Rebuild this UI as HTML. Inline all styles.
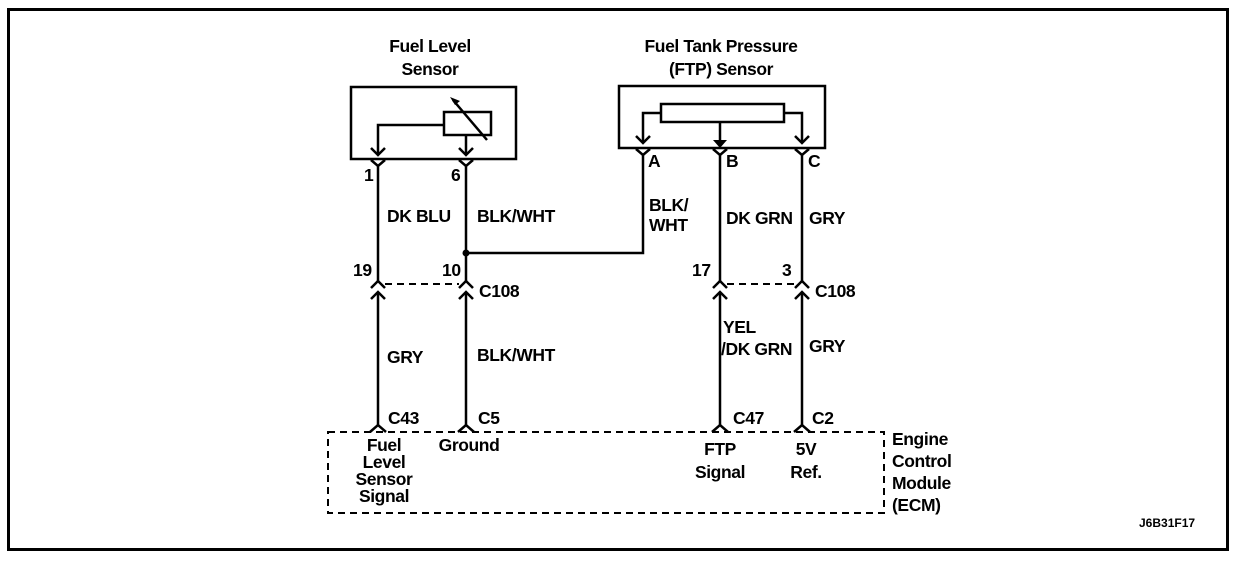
<!DOCTYPE html>
<html><head><meta charset="utf-8"><style>
html,body{margin:0;padding:0;background:#fff;}
svg{display:block;}
text{font-family:"Liberation Sans",Arial,sans-serif;font-weight:bold;font-size:17.5px;letter-spacing:-0.4px;fill:#000;}
</style></head><body>
<svg width="1248" height="562" viewBox="0 0 1248 562" xmlns="http://www.w3.org/2000/svg">
<rect x="8.5" y="9.5" width="1219" height="540" fill="none" stroke="#000" stroke-width="3"/>
<g fill="none" stroke="#000" stroke-width="2.5">
<rect x="351" y="87" width="165" height="72"/>
<rect x="444" y="112" width="47" height="23"/>
<polyline points="444,125 378,125 378,155"/>
<line x1="466" y1="135" x2="466" y2="155"/>
<polyline points="371,148 378,155 385,148"/>
<polyline points="459,148 466,155 473,148"/>
<line x1="453" y1="100" x2="487" y2="140"/>
<polyline points="371,160 378,166 385,160"/>
<polyline points="459,160 466,166 473,160"/>
<line x1="378" y1="166" x2="378" y2="281"/>
<line x1="466" y1="166" x2="466" y2="281"/>
<rect x="619" y="86" width="206" height="62"/>
<rect x="661" y="104" width="123" height="18"/>
<polyline points="661,113 643,113 643,143"/>
<polyline points="784,113 802,113 802,143"/>
<line x1="720" y1="122" x2="720" y2="140"/>
<polyline points="636,136 643,143 650,136"/>
<polyline points="795,136 802,143 809,136"/>
<polyline points="636,149 643,155 650,149"/>
<polyline points="713,149 720,155 727,149"/>
<polyline points="795,149 802,155 809,149"/>
<polyline points="643,155 643,253 466,253"/>
<line x1="720" y1="155" x2="720" y2="281"/>
<line x1="802" y1="155" x2="802" y2="281"/>
<polyline points="371,288 378,281 385,288"/>
<polyline points="459,288 466,281 473,288"/>
<polyline points="713,288 720,281 727,288"/>
<polyline points="795,288 802,281 809,288"/>
<polyline points="371,299 378,292 385,299"/>
<polyline points="459,299 466,292 473,299"/>
<polyline points="713,299 720,292 727,299"/>
<polyline points="795,299 802,292 809,299"/>
<line x1="378" y1="292" x2="378" y2="425"/>
<line x1="466" y1="292" x2="466" y2="425"/>
<line x1="720" y1="292" x2="720" y2="425"/>
<line x1="802" y1="292" x2="802" y2="425"/>
<polyline points="370,432 378,425 386,432"/>
<polyline points="458,432 466,425 474,432"/>
<polyline points="712,432 720,425 728,432"/>
<polyline points="794,432 802,425 810,432"/>
</g>
<polygon points="450,97 460,101 455,105" fill="#000"/>
<g fill="none" stroke="#000" stroke-width="2" stroke-dasharray="7,5">
<line x1="385" y1="284" x2="459" y2="284"/>
<line x1="727" y1="284" x2="795" y2="284"/>
<rect x="328" y="432" width="556" height="81"/>
</g>
<circle cx="466" cy="253" r="3.5" fill="#000"/>
<polygon points="713,140 727,140 720,148" fill="#000"/>
<text x="430" y="52" text-anchor="middle">Fuel Level</text>
<text x="430" y="75" text-anchor="middle">Sensor</text>
<text x="721" y="52" text-anchor="middle">Fuel Tank Pressure</text>
<text x="721" y="75" text-anchor="middle">(FTP) Sensor</text>
<text x="364" y="181">1</text>
<text x="451" y="181">6</text>
<text x="648" y="167">A</text>
<text x="726" y="167">B</text>
<text x="808" y="167">C</text>
<text x="387" y="222">DK BLU</text>
<text x="477" y="222">BLK/WHT</text>
<text x="649" y="211">BLK/</text>
<text x="649" y="231">WHT</text>
<text x="726" y="224">DK GRN</text>
<text x="809" y="224">GRY</text>
<text x="353" y="276">19</text>
<text x="442" y="276">10</text>
<text x="692" y="276">17</text>
<text x="782" y="276">3</text>
<text x="479" y="297">C108</text>
<text x="815" y="297">C108</text>
<text x="387" y="363">GRY</text>
<text x="477" y="361">BLK/WHT</text>
<text x="723" y="333">YEL</text>
<text x="721" y="355">/DK GRN</text>
<text x="809" y="352">GRY</text>
<text x="388" y="424">C43</text>
<text x="478" y="424">C5</text>
<text x="733" y="424">C47</text>
<text x="812" y="424">C2</text>
<text x="384" y="451" text-anchor="middle">Fuel</text>
<text x="384" y="468" text-anchor="middle">Level</text>
<text x="384" y="485" text-anchor="middle">Sensor</text>
<text x="384" y="502" text-anchor="middle">Signal</text>
<text x="469" y="451" text-anchor="middle">Ground</text>
<text x="720" y="455" text-anchor="middle">FTP</text>
<text x="720" y="478" text-anchor="middle">Signal</text>
<text x="806" y="455" text-anchor="middle">5V</text>
<text x="806" y="478" text-anchor="middle">Ref.</text>
<text x="892" y="445">Engine</text>
<text x="892" y="467">Control</text>
<text x="892" y="489">Module</text>
<text x="892" y="511">(ECM)</text>
<text x="1139" y="527" style="font-size:12px;letter-spacing:0">J6B31F17</text>
</svg>
</body></html>
